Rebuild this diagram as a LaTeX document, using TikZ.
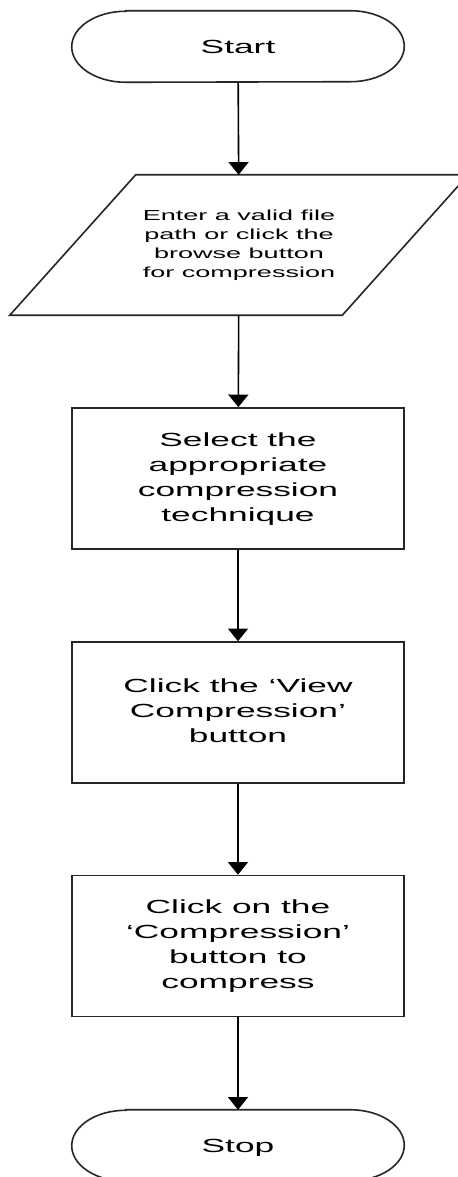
\documentclass[tikz,border=0pt]{standalone}
\usepackage{fontspec}
\setmainfont{Liberation Sans}
\usepackage{graphicx}
\usetikzlibrary{arrows.meta,calc}

% wide, centred multi-line label
\newcommand\widetext[1]{\scalebox{1.86}[1]{\begin{tabular}{@{}c@{}}#1\end{tabular}}}
\newcommand\bigfont{\fontsize{14.25pt}{18.75pt}\selectfont}
\newcommand\smallfont{\fontsize{10.9pt}{14.25pt}\selectfont}

% terminal outline with half-elliptical ends around a node
\newcommand\stadium[1]{%
  \draw[ln] ($(#1.north west)+(54,0)$) -- ($(#1.north east)+(-54,0)$)
    arc[start angle=90,end angle=-90,x radius=40.5pt,y radius=26.625pt]
    -- ($(#1.south west)+(54,0)$)
    arc[start angle=270,end angle=90,x radius=40.5pt,y radius=26.625pt]
    -- cycle;}

\begin{document}
\begin{tikzpicture}[x=0.75pt,y=0.75pt,
  ln/.style={line width=1.2pt, draw=black!85},
  arr/.style={line width=1.2pt, draw=black, -{Triangle[width=15pt,length=9.5pt]}},
  term/.style={rectangle, minimum width=249pt, minimum height=53.25pt,
               inner sep=0pt, font=\bigfont, text height=10.3pt, text depth=0pt},
  procbox/.style={ln, rectangle, minimum width=249pt, minimum height=105.75pt,
                  inner sep=0pt, font=\bigfont},
  iobox/.style={rectangle, minimum width=249pt, minimum height=105pt,
                inner sep=0pt, font=\smallfont}]

\fill[white] (0,0) rectangle (457,-1177);
\useasboundingbox (0,0) rectangle (457,-1177);

\node[term] (start) at (238,-46.5) {\scalebox{1.86}[1]{Start}};
\node[iobox] (inp) at (239,-245)
  {\widetext{Enter a valid file\\path or click the\\browse button\\for compression}};
\node[procbox] (sel) at (238,-478.5)
  {\widetext{Select the\\appropriate\\compression\\technique}};
\node[procbox] (view) at (238,-712.5)
  {\widetext{Click the ‘View\\Compression’\\button}};
\node[procbox] (comp) at (238,-946)
  {\widetext{Click on the\\‘Compression’\\button to\\compress}};
\node[term] (stop) at (238,-1145.5) {\scalebox{1.86}[1]{Stop}};

\stadium{start}
\stadium{stop}
\draw[ln] ($(inp.north west)+(63,0)$) -- ($(inp.north east)+(63,0)$)
  -- ($(inp.south east)+(-63,0)$) -- ($(inp.south west)+(-63,0)$) -- cycle;

\draw[arr] (start) -- (inp);
\draw[arr] (inp) -- (sel);
\draw[arr] (sel) -- (view);
\draw[arr] (view) -- (comp);
\draw[arr] (comp) -- (stop);
\end{tikzpicture}
\end{document}
